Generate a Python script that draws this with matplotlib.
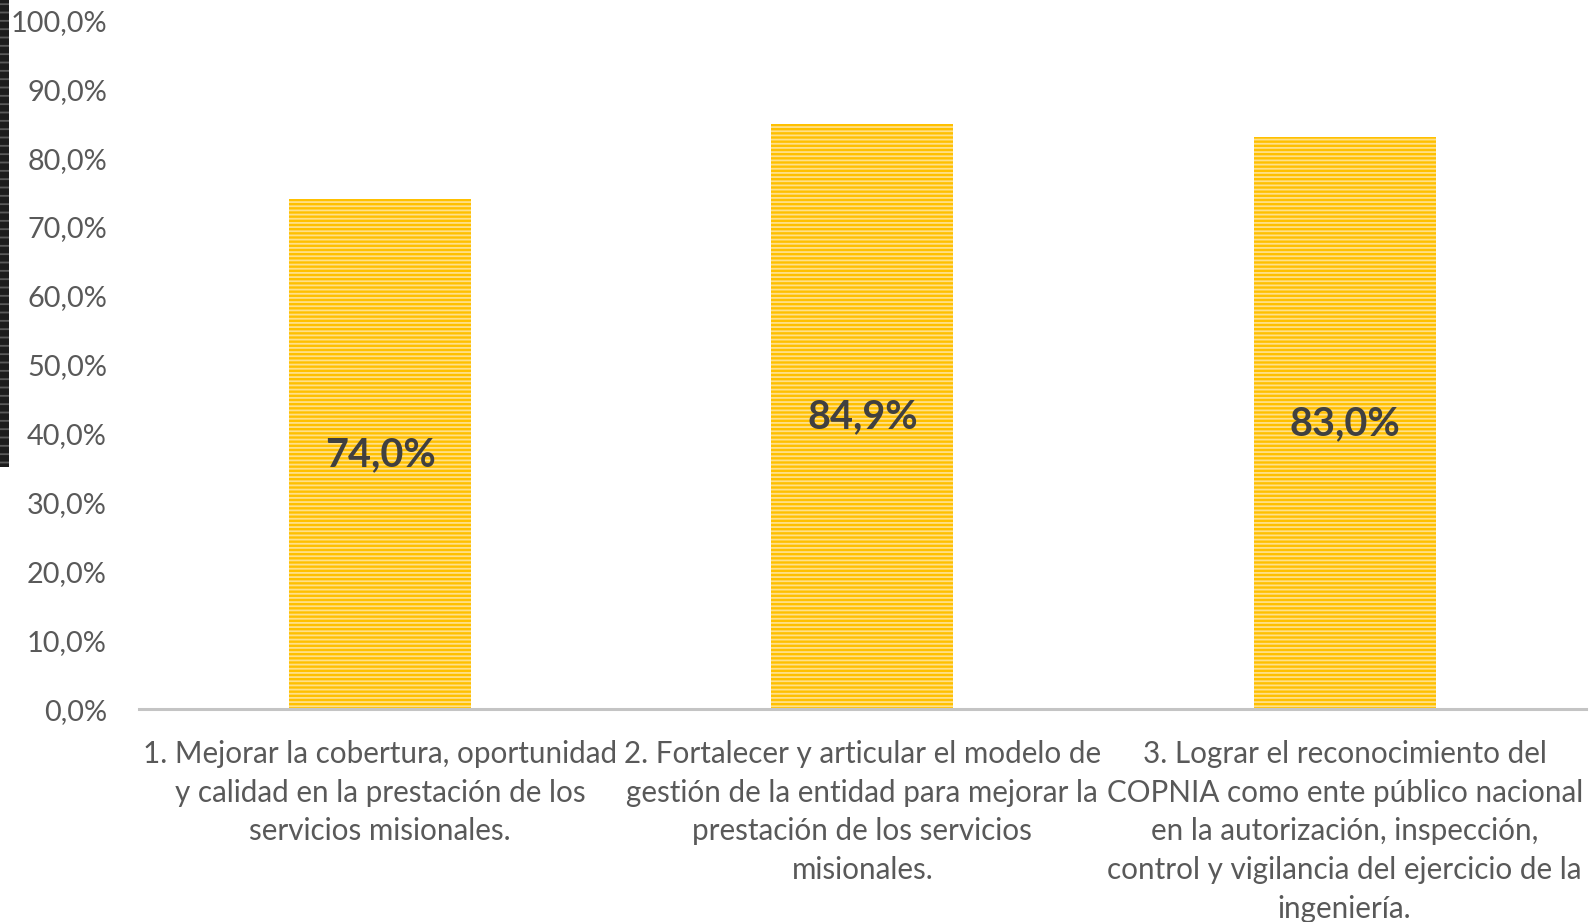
import numpy as np
import matplotlib
matplotlib.use("Agg")
import matplotlib.pyplot as plt
from matplotlib.patches import Rectangle


# data
categories = [
    "1. Mejorar la cobertura, oportunidad\ny calidad en la prestación de los\nservicios misionales.",
    "2. Fortalecer y articular el modelo de\ngestión de la entidad para mejorar la\nprestación de los servicios\nmisionales.",
    "3. Lograr el reconocimiento del\nCOPNIA como ente público nacional\nen la autorización, inspección,\ncontrol y vigilancia del ejercicio de la\ningeniería.",
]
values = [74.0, 84.9, 83.0]
y_ticks = [0, 10, 20, 30, 40, 50, 60, 70, 80, 90, 100]

FONT = "Lato"
TEXT_GRAY = "#595959"
LABEL_DARK = "#404040"
BAR_YELLOW = "#FFC000"
STRIPE = "#FFE08A"

plt.rcParams["font.family"] = [FONT, "DejaVu Sans"]
plt.rcParams["hatch.linewidth"] = 1.3


def pct(v):
    return f"{v:.1f}".replace(".", ",") + "%"


fig = plt.figure(figsize=(15.89, 9.22), dpi=100)
ax = fig.add_axes([0.0874, 0.2308, 0.9106, 0.7472])

x = np.arange(len(values))
bars = ax.bar(x, values, width=0.377, color=BAR_YELLOW, edgecolor=STRIPE,
              linewidth=0, hatch="----", zorder=2)

# data labels centred in the bars (Excel "center" position)
for xi, v in zip(x, values):
    ax.text(xi, v / 2, pct(v), ha="center", va="center", fontsize=28.5,
            fontweight="bold", color=LABEL_DARK, zorder=3)

ax.set_xlim(-0.5, len(values) - 0.5)
ax.set_ylim(0, 100)
ax.set_yticks(y_ticks)
ax.set_yticklabels([pct(t) for t in y_ticks])
ax.set_xticks(x)
ax.set_xticklabels(categories, linespacing=1.47)

ax.tick_params(axis="y", length=0, pad=23, labelsize=20.8, labelcolor=TEXT_GRAY)
ax.tick_params(axis="x", length=0, pad=22, labelsize=21.3, labelcolor=TEXT_GRAY)
for lbl in ax.get_xticklabels():
    lbl.set_ha("center")
    lbl.set_va("top")
    lbl.set_multialignment("center")

for side in ["top", "right", "left"]:
    ax.spines[side].set_visible(False)
ax.spines["bottom"].set_color("#C4C4C4")
ax.spines["bottom"].set_linewidth(2.2)
ax.spines["bottom"].set_zorder(4)

# dark dashed strip cut off at the left edge of the source image
fig.patches.append(Rectangle((0, 0.493), 0.0055, 0.507, transform=fig.transFigure,
                             facecolor="#1c1c1c", edgecolor="#5a5a5a", linewidth=0,
                             hatch="--"))

fig.savefig("out.png", dpi=100)
